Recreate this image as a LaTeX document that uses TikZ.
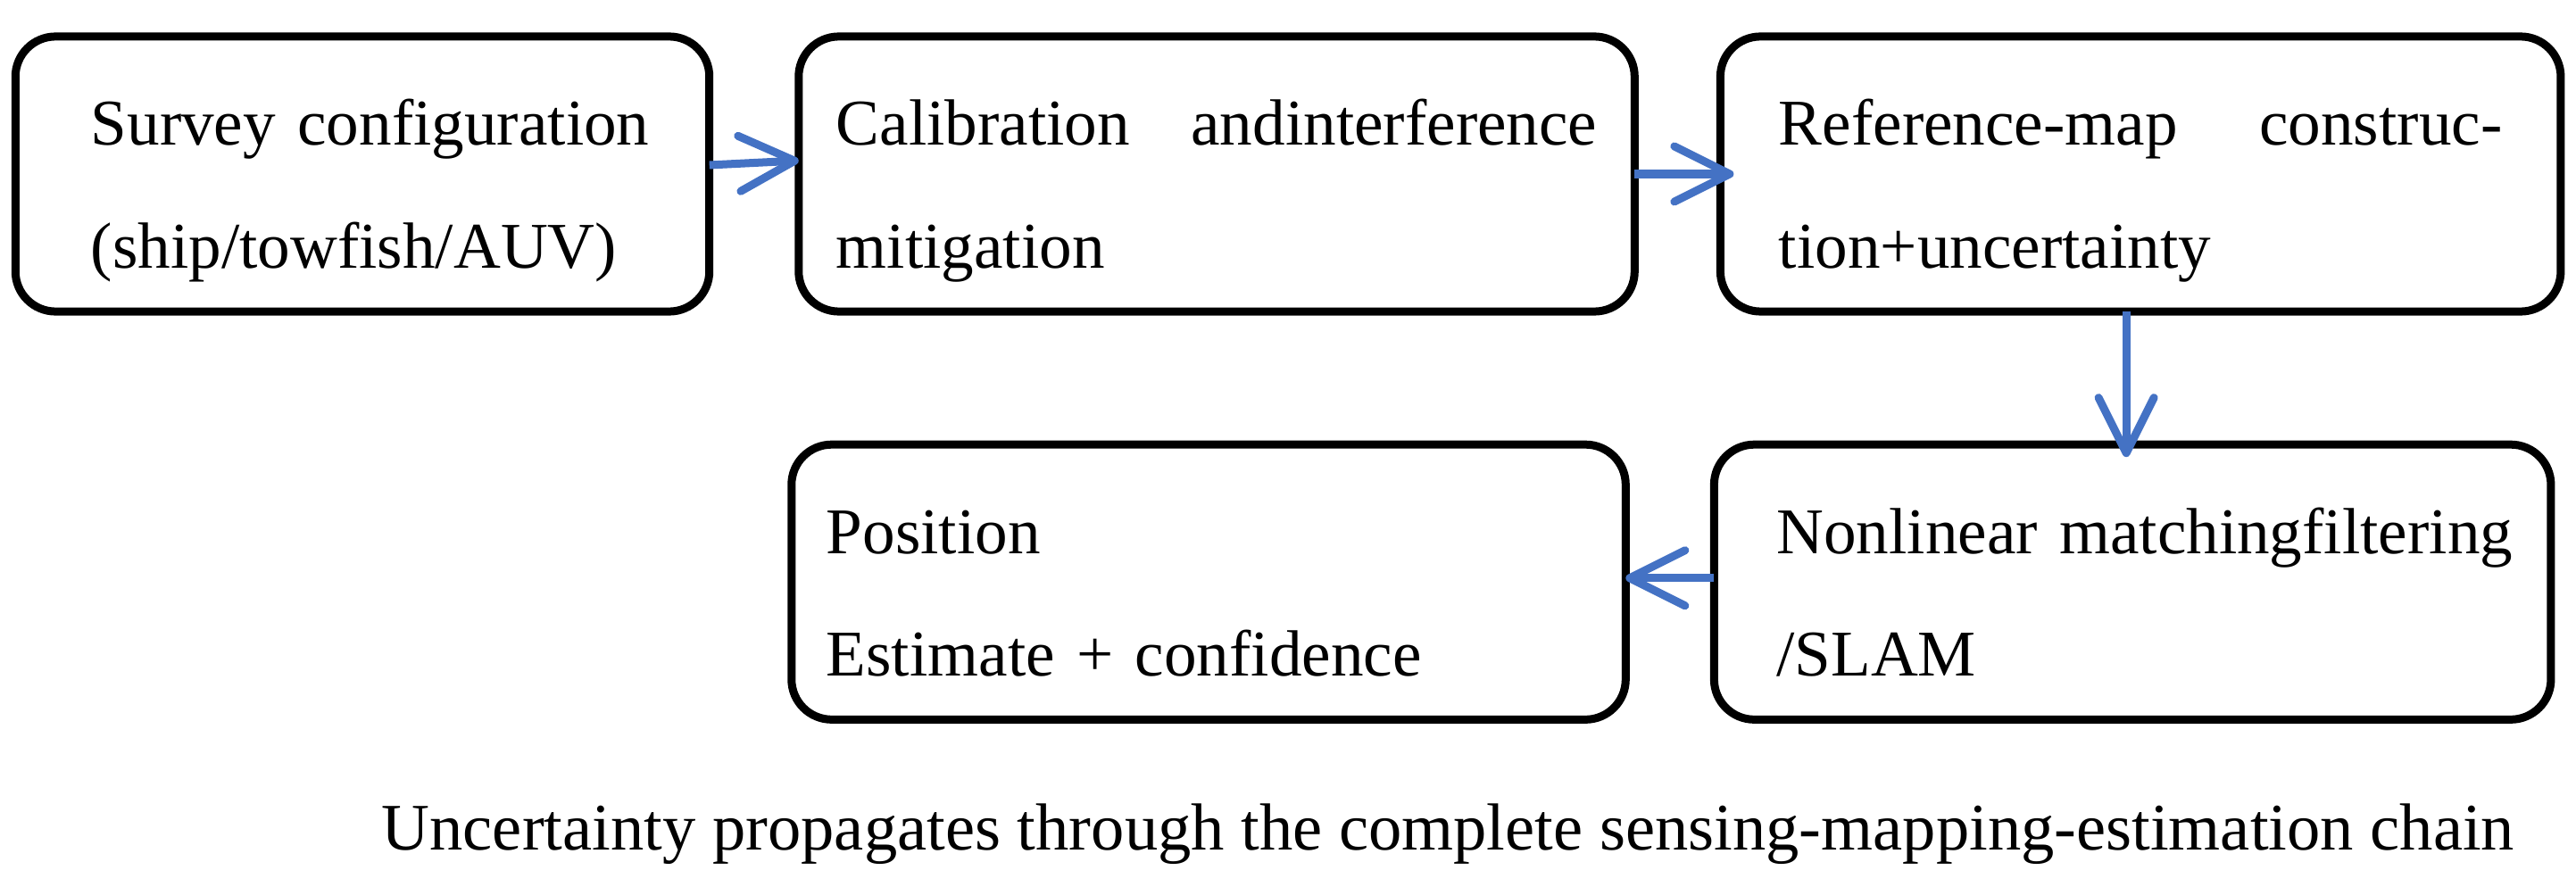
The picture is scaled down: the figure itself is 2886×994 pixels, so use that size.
\documentclass[tikz,border=0pt]{standalone}
\usepackage{fontspec}
\setmainfont{Liberation Serif}
\usetikzlibrary{arrows.meta,positioning}
\definecolor{flowblue}{RGB}{68,114,196}

\begin{document}
\begin{tikzpicture}[x=0.01cm,y=-0.01cm,
        font=\fontsize{20.8}{39}\selectfont,
        stage/.style={draw,line width=0.09cm,rounded corners=0.45cm,
                inner sep=0pt,outer sep=0pt,minimum height=3.08cm,
                align=left,text height=0.9cm,text depth=1.54cm},
        flow/.style={flowblue,line width=0.09cm,
                -{Straight Barb[length=0.62cm,width=0.62cm,round]}},
        node distance=1cm]
    \useasboundingbox (0,0) rectangle (2886,994);

    \node [stage,minimum width=7.77cm,text width=6.08cm] (survey) at (406,195)
          {\mbox{Survey configuration}\\(ship/towfish/AUV)};
    \node [stage,minimum width=9.36cm,text width=8.52cm] (calib)  [right=of survey]
          {Calibration\hfill andinterference\\mitigation};
    \node [stage,minimum width=9.41cm,text width=8.1cm]  (refmap) [right=0.96cm of calib]
          {Reference-map\hfill construc-\\tion+uncertainty};
    \node [stage,minimum width=9.37cm,text width=7.97cm] (match)  [below=1.49cm of refmap,xshift=-0.09cm]
          {\mbox{Nonlinear matchingfiltering}\\/SLAM};
    \node [stage,minimum width=9.34cm,text width=8.56cm] (pose)   [left=0.99cm of match]
          {Position\\Estimate + confidence};

    \node [anchor=base west,inner sep=0pt,font=\fontsize{21.2}{25}\selectfont] (caption) at (427,952)
          {Uncertainty propagates through the complete sensing-mapping-estimation chain};

    \draw [flow] ([yshift=0.1cm]survey.east) -- ([yshift=0.15cm]calib.west);
    \draw [flow,shorten >=-0.15cm] (calib.east) -- (refmap.west);
    \draw [flow,shorten >=-0.14cm] ([xshift=-0.16cm]refmap.south)
          -- ([xshift=-0.16cm]refmap.south |- match.north);
    \draw [flow] ([yshift=0.045cm]match.west) -- ([yshift=0.045cm]pose.east);
\end{tikzpicture}
\end{document}
